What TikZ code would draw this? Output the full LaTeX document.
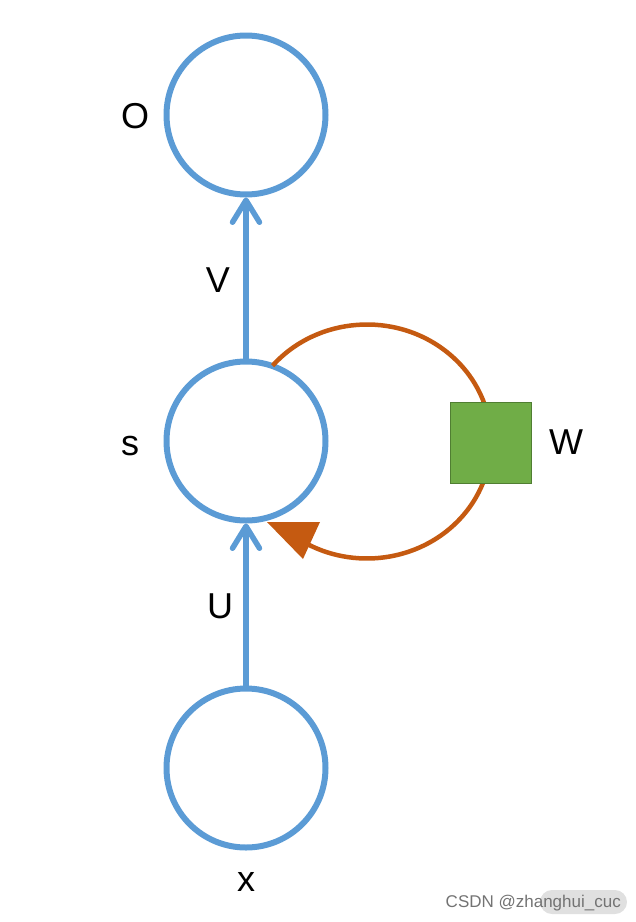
\documentclass[tikz,border=0pt]{standalone}
\usepackage{fontspec}
\setmainfont{Liberation Sans}
\usetikzlibrary{arrows.meta}
\definecolor{cblue}{HTML}{5B9BD5}
\definecolor{corange}{HTML}{C55A11}
\definecolor{cgreen}{HTML}{70AD47}
\definecolor{cgreenb}{HTML}{507E32}
\begin{document}
\begin{tikzpicture}[x=1pt,y=-1pt,
  unit/.style={circle,draw=cblue,line width=6pt,minimum size=159pt,inner sep=0pt},
  flow/.style={draw=cblue,line width=5.5pt,-{Straight Barb[length=22pt,width=27pt,line cap=round,line join=round]}},
  lbl/.style={font=\fontsize{36pt}{36pt}\selectfont,inner sep=0pt},
  wbox/.style={draw=cgreenb,line width=1.6pt,fill=cgreen,minimum size=81pt,inner sep=0pt}]
\useasboundingbox (0,0) rectangle (636,922);
\node[unit] (o) at (246,115) {};
\node[unit] (s) at (246,441) {};
\node[unit] (x) at (246,768) {};
\draw[flow] (s.north) -- (o.south);
\draw[flow] (x.north) -- (s.south);
% recurrent loop
\coordinate (lc) at (367,441.5);
\draw[corange,line width=4.5pt] (lc) ++(220.4:124 and 117) arc[start angle=220.4,end angle=478.8,x radius=124,y radius=117];
\fill[corange] (267,522) -- (320,522) -- (303,559) -- cycle;
\node[wbox] (w) at (491,443) {};
\node[lbl] (lo) at (135,116) {O};
\node[lbl] (lv) at (218,280) {V};
\node[lbl] (ls) at (130,446) {s};
\node[lbl] (lu) at (220,606) {U};
\node[lbl] (lw) at (566,442) {W};
\node[lbl] (lx) at (246,882) {x};
\fill[black!12,rounded corners=12pt] (540,890) rectangle (627,914);
\node[font=\fontsize{17pt}{17pt}\selectfont,text=black!55,inner sep=0pt,anchor=east] (wm) at (621,903) {CSDN @zhanghui\_cuc};
\end{tikzpicture}
\end{document}
